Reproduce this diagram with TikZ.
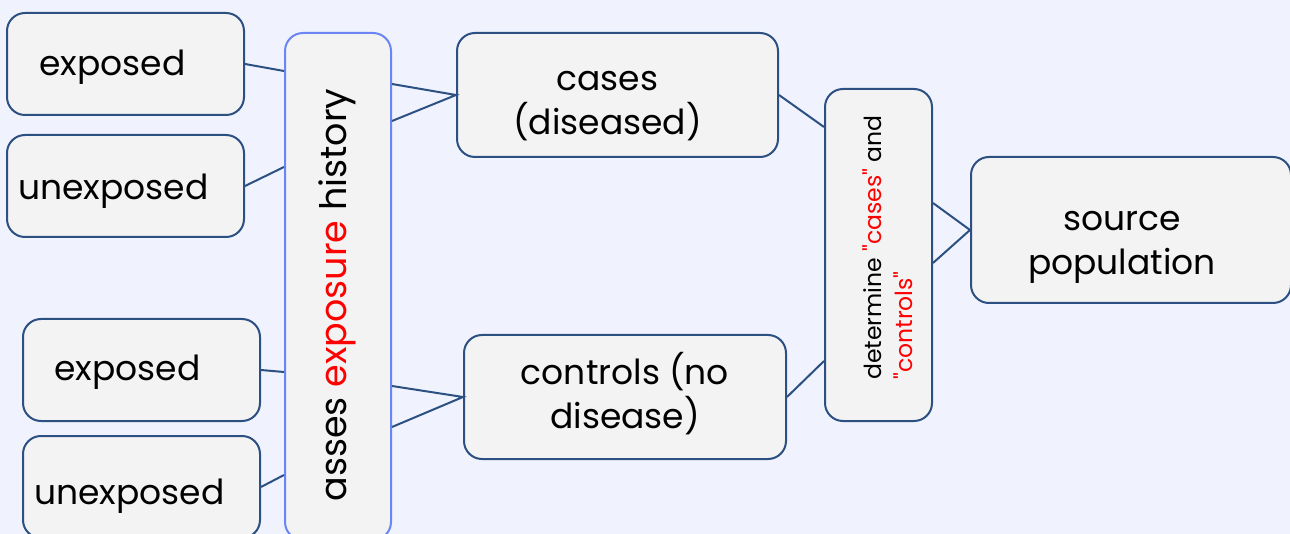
\documentclass[tikz,border=0pt]{standalone}
\usepackage{fontspec}
\setmainfont{Poppins}[Ligatures=TeXOff]
\usetikzlibrary{calc}
\definecolor{bgcol}{HTML}{F0F3FD}
\definecolor{boxfill}{HTML}{F3F3F3}
\definecolor{boxline}{HTML}{2C5082}
\definecolor{histline}{HTML}{6A86F5}
\newcommand{\bigtext}{\fontsize{34.5}{44}\selectfont}
\newcommand{\histtext}{\fontsize{36.5}{44}\selectfont}
\newcommand{\smalltext}{\fontsize{23.5}{31}\selectfont}

\begin{document}
\begin{tikzpicture}[x=1pt, y=-1pt,
  box/.style={draw=boxline, line width=2pt, fill=boxfill, rounded corners=18pt, inner sep=0pt},
  link/.style={draw=boxline, line width=2pt},
  every label/.style={font=\bigtext, align=center, inner sep=0pt}]
  \fill[bgcol] (0,0) rectangle (1290,534);
  \useasboundingbox (0,0) rectangle (1290,534);

  % left column
  \node[box, minimum width=237pt, minimum height=102pt, label={[xshift=-13pt, yshift=-3pt]center:exposed}] (exp1) at (125.5,64) {};
  \node[box, minimum width=237pt, minimum height=102pt, label={[xshift=-12pt, yshift=-5pt]center:unexposed}] (unexp1) at (125.5,186) {};
  \node[box, minimum width=237pt, minimum height=102pt, label={[xshift=-14pt, yshift=-2pt]center:exposed}] (exp2) at (141.5,370) {};
  \node[box, minimum width=237pt, minimum height=102pt, label={[xshift=-12pt, yshift=-9pt]center:unexposed}] (unexp2) at (141.5,487) {};

  % history
  \node[box, draw=histline, minimum width=106pt, minimum height=507pt,
    label={[rotate=90, font=\histtext, xshift=-8.5pt, yshift=1pt]center:asses \textcolor{red}{exposure} history}] (hist) at (338,286.5) {};

  % middle
  \node[box, minimum width=321pt, minimum height=124pt, label={[xshift=-10pt, yshift=-11pt]center:cases\\(diseased)}] (cases) at (617.5,95) {};
  \node[box, minimum width=322pt, minimum height=124pt, label={[yshift=3pt]center:controls (no\\disease)}] (controls) at (625,397) {};

  % determine
  \node[box, minimum width=107pt, minimum height=332pt,
    label={[rotate=90, font=\smalltext, align=left, xshift=7.5pt, yshift=-9pt]center:determine \textcolor{red}{"cases"} and\\\textcolor{red}{"controls"}}] (det) at (878.5,255) {};

  % source
  \node[box, minimum width=320pt, minimum height=146pt, label={[xshift=-9pt, yshift=-17pt]center:source\\population}] (source) at (1131,230) {};

  % links
  \draw[link] (exp1.east) -- ($(hist.north west)+(0,39)$);
  \draw[link] (unexp1.east) -- ($(hist.north west)+(0,135)$);
  \draw[link] (exp2.east) -- ($(hist.north west)+(0,340)$);
  \draw[link] (unexp2.east) -- ($(hist.north west)+(0,443)$);
  \draw[link] ($(hist.north east)+(0,52)$) -- (cases.west) -- ($(hist.north east)+(0,89)$);
  \draw[link] ($(hist.north east)+(0,354)$) -- (controls.west) -- ($(hist.north east)+(0,395)$);
  \draw[link] (cases.east) -- ($(det.north west)+(0,39)$);
  \draw[link] (controls.east) -- ($(det.north west)+(0,273)$);
  \draw[link] ($(det.north east)+(0,115)$) -- (source.west) -- ($(det.north east)+(0,175)$);
\end{tikzpicture}
\end{document}
